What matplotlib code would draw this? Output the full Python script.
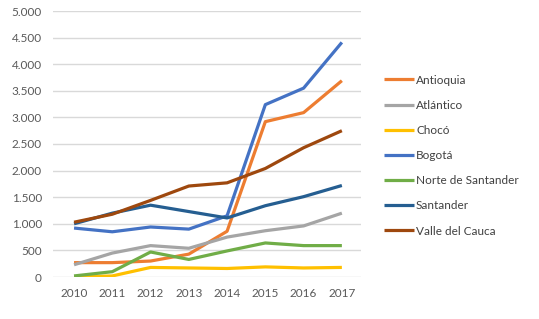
import matplotlib
matplotlib.use("Agg")
import matplotlib.pyplot as plt
from matplotlib.ticker import FuncFormatter

years = [2010, 2011, 2012, 2013, 2014, 2015, 2016, 2017]
antioquia = [270, 270, 300, 430, 860, 2920, 3090, 3690]
atlantico = [230, 450, 590, 540, 750, 870, 960, 1200]
choco = [0, 20, 180, 170, 160, 190, 170, 180]
bogota = [920, 850, 940, 900, 1150, 3240, 3550, 4410]
norte_santander = [20, 100, 470, 330, 490, 640, 590, 590]
santander = [1000, 1200, 1350, 1230, 1110, 1340, 1510, 1720]
valle = [1030, 1180, 1440, 1710, 1770, 2040, 2430, 2750]

series = [
    ("Antioquia", antioquia, "#ED7D31"),
    ("Atlántico", atlantico, "#A5A5A5"),
    ("Chocó", choco, "#FFC000"),
    ("Bogotá", bogota, "#4472C4"),
    ("Norte de Santander", norte_santander, "#70AD47"),
    ("Santander", santander, "#255E91"),
    ("Valle del Cauca", valle, "#9E480E"),
]

plt.rcParams['font.family'] = ['Lato', 'DejaVu Sans']

fig = plt.figure(figsize=(5.39, 3.19), dpi=100)
ax = fig.add_axes([53/539, 1 - 277/319, (361-53)/539, (277-11)/319])

for name, vals, col in series:
    ax.plot(years, vals, color=col, lw=2.3, label=name, solid_capstyle='butt')

ax.set_xlim(2009.45, 2017.5)
ax.set_ylim(0, 5000)
ax.set_yticks(range(0, 5001, 500))
ax.set_xticks(years)
ax.yaxis.set_major_formatter(FuncFormatter(lambda v, p: f"{int(v):,}".replace(",", ".")))
ax.grid(axis='y', color='#D9D9D9', lw=1)
ax.set_axisbelow(True)
for s in ax.spines.values():
    s.set_visible(False)
ax.tick_params(length=0, labelsize=8.5, labelcolor='#595959')
ax.tick_params(axis='y', pad=8)
ax.tick_params(axis='x', pad=8)

leg = fig.legend(loc='upper left', bbox_to_anchor=(373/539, 1 - 64/319), frameon=False,
                 fontsize=8.5, handlelength=2.6, handletextpad=0.15, labelspacing=1.2)
for t in leg.get_texts():
    t.set_color('#404040')

fig.savefig("out.png", dpi=100)
